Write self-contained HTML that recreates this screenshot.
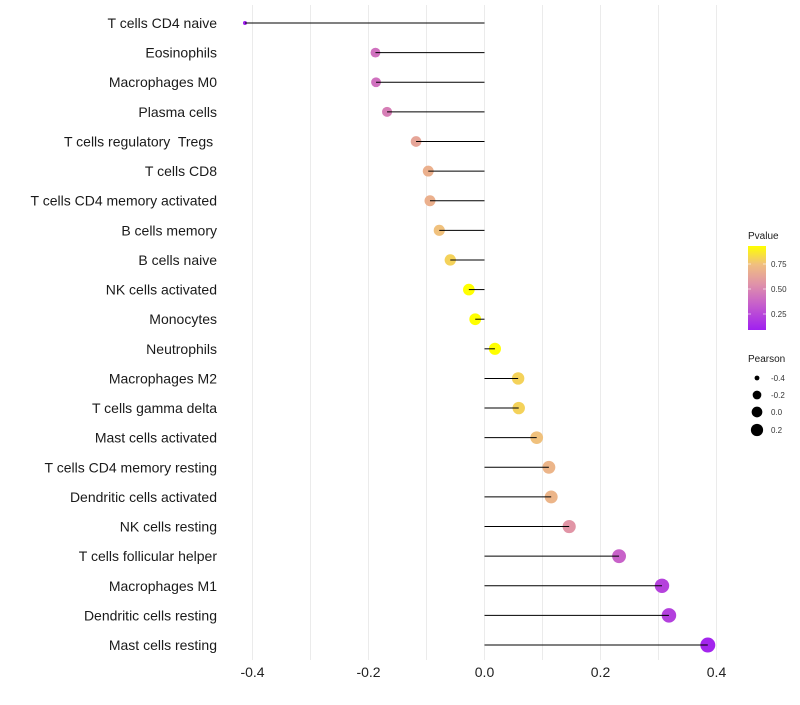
<!DOCTYPE html>
<html><head><meta charset="utf-8"><style>
body{margin:0;background:#fff;font-family:"Liberation Sans",sans-serif}
text{white-space:pre}
</style></head><body>
<svg id="chart" width="800" height="700" xmlns="http://www.w3.org/2000/svg" font-family="Liberation Sans, sans-serif">
<defs><linearGradient id="pg" x1="0" y1="1" x2="0" y2="0">
<stop offset="0" stop-color="#a020f0"/><stop offset="0.33" stop-color="#c964c8"/><stop offset="0.55" stop-color="#e093a8"/><stop offset="0.78" stop-color="#f0bf80"/><stop offset="1" stop-color="#ffff00"/></linearGradient></defs>
<g id="grid"></g><g id="marks"></g><g id="labels"></g><g id="legend"></g>
</svg>
<script>
const categories=["T cells CD4 naive","Eosinophils","Macrophages M0","Plasma cells","T cells regulatory  Tregs ","T cells CD8","T cells CD4 memory activated","B cells memory","B cells naive","NK cells activated","Monocytes","Neutrophils","Macrophages M2","T cells gamma delta","Mast cells activated","T cells CD4 memory resting","Dendritic cells activated","NK cells resting","T cells follicular helper","Macrophages M1","Dendritic cells resting","Mast cells resting"];
const pearson=[-0.413,-0.188,-0.187,-0.168,-0.118,-0.097,-0.094,-0.078,-0.059,-0.027,-0.016,0.018,0.058,0.059,0.09,0.111,0.115,0.146,0.232,0.306,0.318,0.385];
const pvalue=[0.09,0.42,0.42,0.47,0.63,0.68,0.68,0.75,0.8,0.93,0.93,0.93,0.8,0.8,0.75,0.7,0.7,0.56,0.36,0.23,0.22,0.11];
const xTicks=[-0.4,-0.2,0,0.2,0.4];
const xGrid=[-0.4,-0.3,-0.2,-0.1,0,0.1,0.2,0.3,0.4];
const ns="http://www.w3.org/2000/svg";
const X=v=>484.5+v*580;
const Y=i=>23+i*29.62;
const R=v=>2+5.5*Math.sqrt(Math.max(0,(v+0.413)/0.8));
const stops=[[0,[160,32,240]],[0.33,[201,100,200]],[0.55,[224,147,168]],[0.78,[240,191,128]],[1,[255,255,0]]];
function col(p){let t=(p-0.09)/(0.93-0.09);t=Math.max(0,Math.min(1,t));
for(let i=1;i<stops.length;i++){if(t<=stops[i][0]){const a=stops[i-1],b=stops[i];const f=(t-a[0])/(b[0]-a[0]);return "rgb("+a[1].map((c,k)=>Math.round(c+(b[1][k]-c)*f)).join(",")+")";}}return "rgb(255,255,0)";}
function mk(tag,at,parent){const e=document.createElementNS(ns,tag);for(const k in at)e.setAttribute(k,at[k]);document.getElementById(parent).appendChild(e);return e;}
xGrid.forEach(v=>{const l=mk("line",{x1:X(v),x2:X(v),y1:5,y2:660,stroke:"#ebebeb","stroke-width":1},"grid");

});
xTicks.forEach(v=>{const t=mk("text",{x:X(v),y:677,"text-anchor":"middle","font-size":14,fill:"#222"},"labels");t.textContent=v===0?"0.0":v.toFixed(1);

});
categories.forEach((c,i)=>{const t=mk("text",{x:217,y:Y(i)+5,"text-anchor":"end","font-size":14,fill:"#1a1a1a"},"labels");t.textContent=c;


const p=mk("circle",{cx:X(pearson[i]),cy:Y(i),r:R(pearson[i]),fill:col(pvalue[i])},"marks");


const l=mk("line",{x1:X(0),x2:X(pearson[i]),y1:Y(i),y2:Y(i),stroke:"#000","stroke-width":1},"marks");

});
let t=mk("text",{x:748,y:239,"font-size":10,fill:"#1a1a1a"},"legend");t.textContent="Pvalue";


const cb=mk("rect",{x:748,y:246,width:18,height:84,fill:"url(#pg)"},"legend");


[[0.75,264],[0.5,289],[0.25,314]].forEach(([v,y])=>{const a=mk("text",{x:771,y:y+3,"font-size":8,fill:"#333"},"legend");a.textContent=v.toFixed(2);


mk("line",{x1:748,x2:751,y1:y,y2:y,stroke:"#fff","stroke-opacity":0.6},"legend");mk("line",{x1:763,x2:766,y1:y,y2:y,stroke:"#fff","stroke-opacity":0.6},"legend");});
t=mk("text",{x:748,y:362,"font-size":10,fill:"#1a1a1a"},"legend");t.textContent="Pearson";


[[-0.4,378],[-0.2,395],[0,412],[0.2,430]].forEach(([v,y])=>{const c=mk("circle",{cx:757,cy:y,r:R(v)*0.9,fill:"#000"},"legend");


const a=mk("text",{x:771,y:y+3,"font-size":8,fill:"#333"},"legend");a.textContent=v===0?"0.0":v.toFixed(1);

});
</script>
</body></html>
